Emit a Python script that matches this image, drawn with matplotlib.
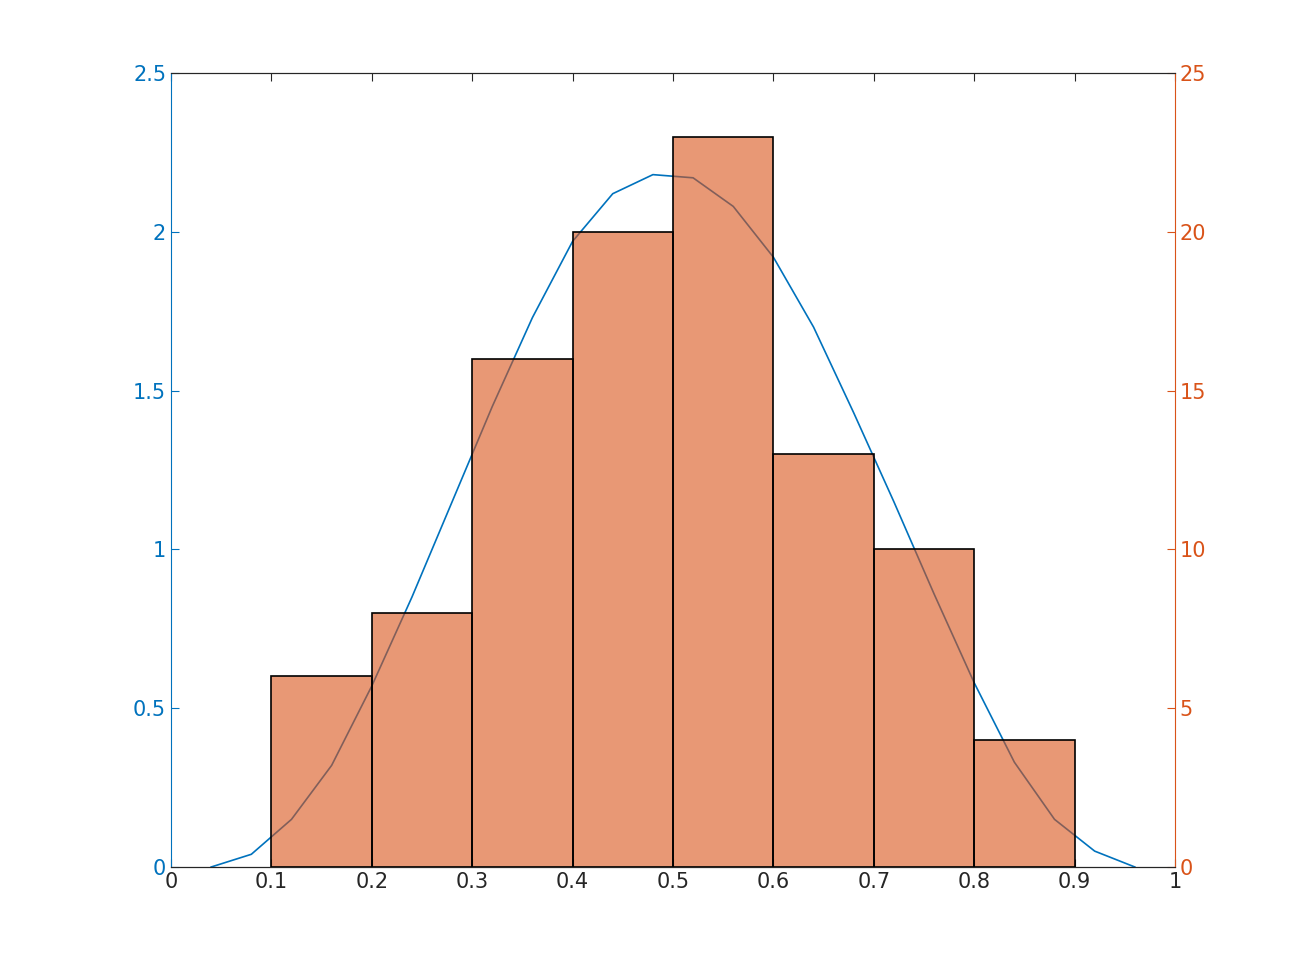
import matplotlib.pyplot as plt
import numpy as np

# histogram (right axis, counts)
bin_edges = [0.1, 0.2, 0.3, 0.4, 0.5, 0.6, 0.7, 0.8, 0.9]
counts = [6, 8, 16, 20, 23, 13, 10, 4]

# density curve (left axis)
curve_x = [0.04, 0.08, 0.12, 0.16, 0.20, 0.24, 0.28, 0.32, 0.36, 0.40, 0.44, 0.48,
           0.52, 0.56, 0.60, 0.64, 0.68, 0.72, 0.76, 0.80, 0.84, 0.88, 0.92, 0.96]
curve_y = [0.0, 0.04, 0.15, 0.32, 0.57, 0.85, 1.15, 1.45, 1.73, 1.97, 2.12, 2.18,
           2.17, 2.08, 1.92, 1.70, 1.43, 1.15, 0.86, 0.58, 0.33, 0.15, 0.05, 0.0]

blue = '#0072BD'
orange = '#D95319'

fig = plt.figure(figsize=(13, 9.75), dpi=100)
ax = fig.add_axes([171/1300, 1 - 867/975, (1175-171)/1300, (867-73)/975])
ax.plot(curve_x, curve_y, color=blue, lw=1.2, zorder=1)
ax.set_xlim(0, 1)
ax.set_ylim(0, 2.5)
ax.set_xticks(np.arange(0, 1.01, 0.1))
ax.set_xticklabels(['0', '0.1', '0.2', '0.3', '0.4', '0.5', '0.6', '0.7', '0.8', '0.9', '1'])
ax.set_yticks([0, 0.5, 1, 1.5, 2, 2.5])
ax.set_yticklabels(['0', '0.5', '1', '1.5', '2', '2.5'])

ax2 = ax.twinx()
widths = np.diff(bin_edges)
ax2.bar(bin_edges[:-1], counts, width=widths, align='edge', color=orange, alpha=0.6,
        edgecolor='none', zorder=2)
ax2.bar(bin_edges[:-1], counts, width=widths, align='edge', fill=False,
        edgecolor='black', lw=1.2, zorder=3)
ax2.set_ylim(0, 25)
ax2.set_yticks([0, 5, 10, 15, 20, 25])

for a in (ax, ax2):
    a.tick_params(direction='in', length=6, labelsize=15)
    a.spines['top'].set_color('#262626')
ax.tick_params(axis='x', colors='#262626', top=True)
ax.tick_params(axis='y', colors=blue)
ax.spines['left'].set_color(blue)
ax2.tick_params(axis='y', colors=orange)
ax2.spines['right'].set_color(orange)
ax2.spines['left'].set_visible(False)
ax.spines['right'].set_visible(False)
ax2.spines['bottom'].set_color('#262626')

fig.savefig('out.png', dpi=100)
